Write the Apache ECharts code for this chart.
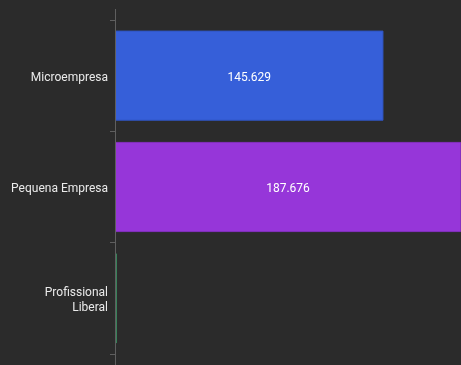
<!DOCTYPE html>
<html>
<head>
<meta charset="utf-8">
<script src="https://cdn.jsdelivr.net/npm/echarts@6/dist/echarts.min.js"></script>
<style>
html,body{margin:0;padding:0;background:#2b2b2b;}
#c{width:461px;height:365px;}
</style>
</head>
<body>
<div id="c"></div>
<script>
const categories = ['Microempresa', 'Pequena Empresa', 'Profissional Liberal'];
const values = [145629, 187676, 900];
const colors = ['#365fd9', '#9636d9', '#45b87a'];
const borders = ['#2f53bf', '#8430bf', '#3ca46c'];

const chart = echarts.init(document.getElementById('c'), null, {renderer: 'canvas'});
const fmt = v => v.toLocaleString('pt-BR');

chart.setOption({
  backgroundColor: '#2b2b2b',
  animation: false,
  grid: {left: 115, right: 0, top: 20, bottom: 11, containLabel: false},
  xAxis: {
    type: 'value', min: 0, max: 187676, show: false
  },
  yAxis: {
    type: 'category',
    data: categories,
    inverse: true,
    axisLine: {show: true, lineStyle: {color: '#5f5f5f', width: 1}},
    axisTick: {show: true, length: 5, lineStyle: {color: '#5f5f5f'}},
    axisLabel: {
      color: '#eaeaea', fontSize: 12, fontFamily: 'Roboto', margin: 7,
      formatter: v => v.split(' ').length > 2 || v.length > 16
        ? '{a|' + v.replace(' ', '}\n{a|') + '}'
        : '{a|' + v + '}',
      rich: {a: {color: '#eaeaea', fontSize: 12, fontFamily: 'Roboto', lineHeight: 15, padding: [4, 0, 0, 0]}}
    },
    splitLine: {show: false}
  },
  graphic: [{
    type: 'line', z: 10,
    shape: {x1: 115.5, y1: 9, x2: 115.5, y2: 365},
    style: {stroke: '#5f5f5f', lineWidth: 1}
  }],
  series: [{
    type: 'bar',
    barCategoryGap: '19%',
    data: values.map((v, i) => ({
      value: v,
      itemStyle: {color: colors[i], borderColor: borders[i], borderWidth: 1},
      label: {show: i < 2}
    })),
    label: {
      show: true, position: 'inside', color: '#ffffff', fontSize: 12,
      fontFamily: 'Roboto', offset: [0, 2], formatter: p => fmt(p.value)
    }
  }]
});
</script>
</body>
</html>
